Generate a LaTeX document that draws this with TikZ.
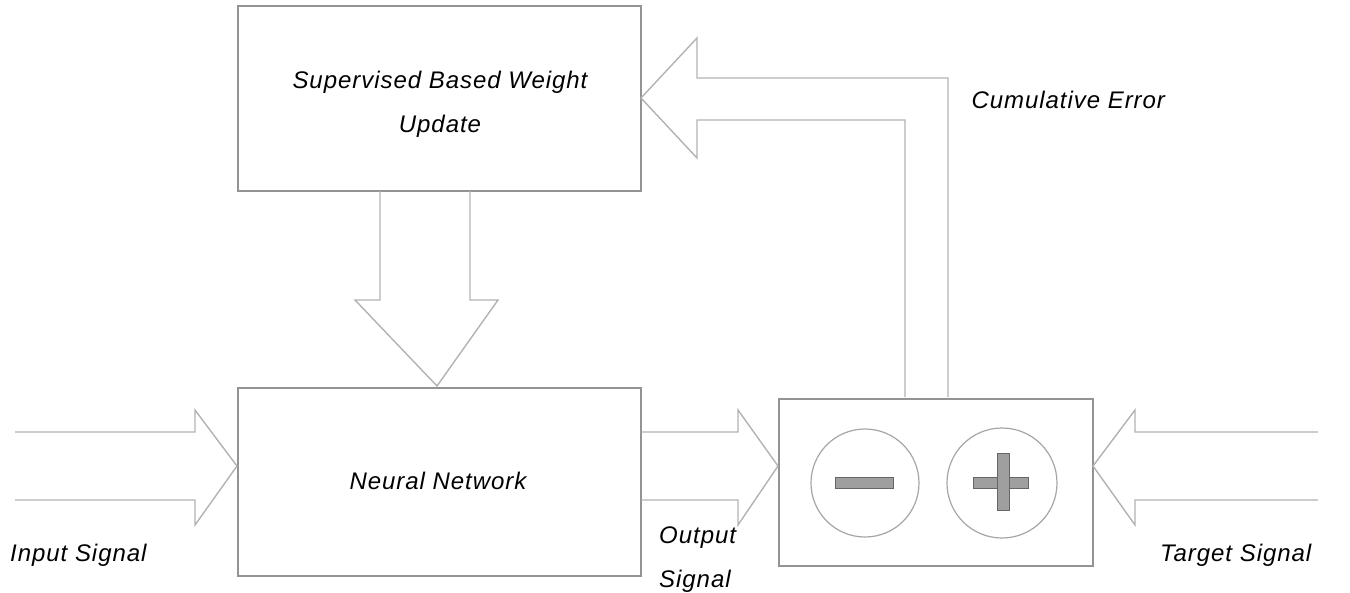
\documentclass[tikz,border=0pt]{standalone}
\usepackage{fontspec}
\setmainfont{Liberation Sans}
\begin{document}
\begin{tikzpicture}[x=1pt,y=-1pt,
  box/.style={draw=gray!85,line width=1.6pt,fill=white},
  arr/.style={draw=gray!60,line width=1.4pt,line join=miter},
  lbl/.style={font=\itshape\fontsize{24}{44}\selectfont\addfontfeature{LetterSpace=4},text=black},
  circ/.style={draw=gray!70,line width=1.2pt},
  bar/.style={draw=gray!80!black,fill=gray!75,line width=1pt}]
\useasboundingbox (0,0) rectangle (1350,592);
% boxes
\node[box,minimum width=403,minimum height=185,anchor=north west,inner sep=0] (sup) at (237,5) {};
\node[lbl,align=center] (suptxt) at (440,104) {Supervised Based Weight\\Update};
\node[box,minimum width=403,minimum height=188,anchor=north west,inner sep=0] (nn) at (237,387) {};
\node[lbl] (nntxt) at (438,481) {Neural Network};
\node[box,minimum width=314,minimum height=167,anchor=north west,inner sep=0] (sum) at (778,398) {};
% circles
\node[circ,circle,minimum size=108] (minus) at (865,483) {};
\node[circ,circle,minimum size=110] (plus) at (1002,483) {};
\draw[bar] (835,477) rectangle (893,488);
\draw[bar] (973,477) rectangle (1028,488);
\draw[bar] (997,453) rectangle (1009,510);
% input arrow
\draw[arr] (15,432) -- (195,432) -- (195,410) -- (237,466) -- (195,525) -- (195,500) -- (15,500);
% output arrow
\draw[arr] (641,432) -- (738,432) -- (738,410) -- (778,466) -- (738,525) -- (738,500) -- (641,500);
% target arrow
\draw[arr] (1318,432) -- (1135,432) -- (1135,410) -- (1093,466) -- (1135,525) -- (1135,500) -- (1318,500);
% down arrow
\draw[arr] (380,191) -- (380,300) -- (355,300) -- (437,386) -- (498,300) -- (470,300) -- (470,191);
% feedback arrow
\draw[arr] (905,397) -- (905,120) -- (697,120) -- (697,158) -- (641,98) -- (697,38) -- (697,78) -- (948,78) -- (948,397);
% labels
\node[lbl,anchor=west] (cum) at (968,100) {Cumulative Error};
\node[lbl,anchor=west,inner sep=0] (in) at (10,555) {Input Signal};
\node[lbl,align=left,anchor=west,inner sep=0] (out) at (659,560) {Output\\Signal};
\node[lbl,anchor=west,inner sep=0] (tg) at (1160,555) {Target Signal};
\end{tikzpicture}
\end{document}
